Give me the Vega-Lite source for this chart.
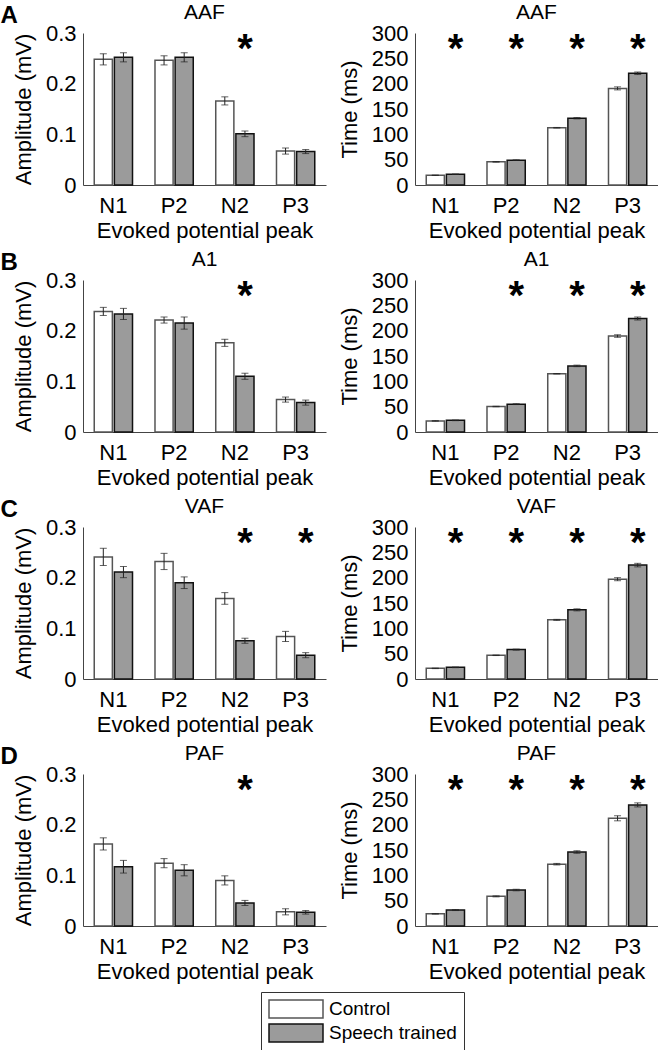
{
  "$schema": "https://vega.github.io/schema/vega-lite/v6.json",
  "background": "white",
  "padding": {"left": 0, "top": 2, "right": 0, "bottom": 0},
  "data": {"values": [
    {"region": "AAF", "measure": "amp", "peak": "N1", "group": "Control", "value": 0.248, "err": 0.011, "sig": false},
    {"region": "AAF", "measure": "amp", "peak": "N1", "group": "Speech trained", "value": 0.252, "err": 0.009, "sig": false},
    {"region": "AAF", "measure": "amp", "peak": "P2", "group": "Control", "value": 0.246, "err": 0.009, "sig": false},
    {"region": "AAF", "measure": "amp", "peak": "P2", "group": "Speech trained", "value": 0.252, "err": 0.009, "sig": false},
    {"region": "AAF", "measure": "amp", "peak": "N2", "group": "Control", "value": 0.166, "err": 0.008, "sig": false},
    {"region": "AAF", "measure": "amp", "peak": "N2", "group": "Speech trained", "value": 0.101, "err": 0.0056, "sig": true},
    {"region": "AAF", "measure": "amp", "peak": "P3", "group": "Control", "value": 0.067, "err": 0.006, "sig": false},
    {"region": "AAF", "measure": "amp", "peak": "P3", "group": "Speech trained", "value": 0.066, "err": 0.004, "sig": false},
    {"region": "AAF", "measure": "lat", "peak": "N1", "group": "Control", "value": 19.2, "err": 0.5, "sig": false},
    {"region": "AAF", "measure": "lat", "peak": "N1", "group": "Speech trained", "value": 21.2, "err": 0.5, "sig": true},
    {"region": "AAF", "measure": "lat", "peak": "P2", "group": "Control", "value": 45.7, "err": 0.5, "sig": false},
    {"region": "AAF", "measure": "lat", "peak": "P2", "group": "Speech trained", "value": 49, "err": 0.7, "sig": true},
    {"region": "AAF", "measure": "lat", "peak": "N2", "group": "Control", "value": 113, "err": 0.6, "sig": false},
    {"region": "AAF", "measure": "lat", "peak": "N2", "group": "Speech trained", "value": 131.8, "err": 1.3, "sig": true},
    {"region": "AAF", "measure": "lat", "peak": "P3", "group": "Control", "value": 190.7, "err": 3, "sig": false},
    {"region": "AAF", "measure": "lat", "peak": "P3", "group": "Speech trained", "value": 220.5, "err": 2.5, "sig": true},
    {"region": "A1", "measure": "amp", "peak": "N1", "group": "Control", "value": 0.238, "err": 0.008, "sig": false},
    {"region": "A1", "measure": "amp", "peak": "N1", "group": "Speech trained", "value": 0.233, "err": 0.011, "sig": false},
    {"region": "A1", "measure": "amp", "peak": "P2", "group": "Control", "value": 0.221, "err": 0.006, "sig": false},
    {"region": "A1", "measure": "amp", "peak": "P2", "group": "Speech trained", "value": 0.215, "err": 0.012, "sig": false},
    {"region": "A1", "measure": "amp", "peak": "N2", "group": "Control", "value": 0.176, "err": 0.007, "sig": false},
    {"region": "A1", "measure": "amp", "peak": "N2", "group": "Speech trained", "value": 0.110, "err": 0.006, "sig": true},
    {"region": "A1", "measure": "amp", "peak": "P3", "group": "Control", "value": 0.064, "err": 0.005, "sig": false},
    {"region": "A1", "measure": "amp", "peak": "P3", "group": "Speech trained", "value": 0.058, "err": 0.005, "sig": false},
    {"region": "A1", "measure": "lat", "peak": "N1", "group": "Control", "value": 21.9, "err": 0.5, "sig": false},
    {"region": "A1", "measure": "lat", "peak": "N1", "group": "Speech trained", "value": 23, "err": 0.6, "sig": false},
    {"region": "A1", "measure": "lat", "peak": "P2", "group": "Control", "value": 50.3, "err": 0.5, "sig": false},
    {"region": "A1", "measure": "lat", "peak": "P2", "group": "Speech trained", "value": 55, "err": 0.8, "sig": true},
    {"region": "A1", "measure": "lat", "peak": "N2", "group": "Control", "value": 115, "err": 0.5, "sig": false},
    {"region": "A1", "measure": "lat", "peak": "N2", "group": "Speech trained", "value": 130.5, "err": 1.5, "sig": true},
    {"region": "A1", "measure": "lat", "peak": "P3", "group": "Control", "value": 189.4, "err": 2.5, "sig": false},
    {"region": "A1", "measure": "lat", "peak": "P3", "group": "Speech trained", "value": 224, "err": 3, "sig": true},
    {"region": "VAF", "measure": "amp", "peak": "N1", "group": "Control", "value": 0.241, "err": 0.017, "sig": false},
    {"region": "VAF", "measure": "amp", "peak": "N1", "group": "Speech trained", "value": 0.211, "err": 0.011, "sig": false},
    {"region": "VAF", "measure": "amp", "peak": "P2", "group": "Control", "value": 0.232, "err": 0.016, "sig": false},
    {"region": "VAF", "measure": "amp", "peak": "P2", "group": "Speech trained", "value": 0.190, "err": 0.0115, "sig": false},
    {"region": "VAF", "measure": "amp", "peak": "N2", "group": "Control", "value": 0.159, "err": 0.0115, "sig": false},
    {"region": "VAF", "measure": "amp", "peak": "N2", "group": "Speech trained", "value": 0.0755, "err": 0.005, "sig": true},
    {"region": "VAF", "measure": "amp", "peak": "P3", "group": "Control", "value": 0.084, "err": 0.01, "sig": false},
    {"region": "VAF", "measure": "amp", "peak": "P3", "group": "Speech trained", "value": 0.047, "err": 0.005, "sig": true},
    {"region": "VAF", "measure": "lat", "peak": "N1", "group": "Control", "value": 21, "err": 0.5, "sig": false},
    {"region": "VAF", "measure": "lat", "peak": "N1", "group": "Speech trained", "value": 23, "err": 0.6, "sig": true},
    {"region": "VAF", "measure": "lat", "peak": "P2", "group": "Control", "value": 46.8, "err": 0.5, "sig": false},
    {"region": "VAF", "measure": "lat", "peak": "P2", "group": "Speech trained", "value": 58, "err": 1, "sig": true},
    {"region": "VAF", "measure": "lat", "peak": "N2", "group": "Control", "value": 116.7, "err": 1, "sig": false},
    {"region": "VAF", "measure": "lat", "peak": "N2", "group": "Speech trained", "value": 136.5, "err": 2, "sig": true},
    {"region": "VAF", "measure": "lat", "peak": "P3", "group": "Control", "value": 197, "err": 3, "sig": false},
    {"region": "VAF", "measure": "lat", "peak": "P3", "group": "Speech trained", "value": 224.8, "err": 3.5, "sig": true},
    {"region": "PAF", "measure": "amp", "peak": "N1", "group": "Control", "value": 0.162, "err": 0.012, "sig": false},
    {"region": "PAF", "measure": "amp", "peak": "N1", "group": "Speech trained", "value": 0.117, "err": 0.0125, "sig": false},
    {"region": "PAF", "measure": "amp", "peak": "P2", "group": "Control", "value": 0.124, "err": 0.009, "sig": false},
    {"region": "PAF", "measure": "amp", "peak": "P2", "group": "Speech trained", "value": 0.110, "err": 0.011, "sig": false},
    {"region": "PAF", "measure": "amp", "peak": "N2", "group": "Control", "value": 0.090, "err": 0.009, "sig": false},
    {"region": "PAF", "measure": "amp", "peak": "N2", "group": "Speech trained", "value": 0.0455, "err": 0.005, "sig": true},
    {"region": "PAF", "measure": "amp", "peak": "P3", "group": "Control", "value": 0.028, "err": 0.006, "sig": false},
    {"region": "PAF", "measure": "amp", "peak": "P3", "group": "Speech trained", "value": 0.027, "err": 0.0035, "sig": false},
    {"region": "PAF", "measure": "lat", "peak": "N1", "group": "Control", "value": 24, "err": 0.5, "sig": false},
    {"region": "PAF", "measure": "lat", "peak": "N1", "group": "Speech trained", "value": 31.5, "err": 1, "sig": true},
    {"region": "PAF", "measure": "lat", "peak": "P2", "group": "Control", "value": 58.5, "err": 1, "sig": false},
    {"region": "PAF", "measure": "lat", "peak": "P2", "group": "Speech trained", "value": 71, "err": 1.5, "sig": true},
    {"region": "PAF", "measure": "lat", "peak": "N2", "group": "Control", "value": 122, "err": 1.5, "sig": false},
    {"region": "PAF", "measure": "lat", "peak": "N2", "group": "Speech trained", "value": 146, "err": 2.5, "sig": true},
    {"region": "PAF", "measure": "lat", "peak": "P3", "group": "Control", "value": 212.6, "err": 5, "sig": false},
    {"region": "PAF", "measure": "lat", "peak": "P3", "group": "Speech trained", "value": 239, "err": 4, "sig": true}
  ]},
  "spacing": 8,
  "vconcat": [
    {"title": {"text": "A", "anchor": "start", "fontSize": 24, "fontWeight": "bold", "offset": -26, "dx": -12}, "spacing": 12, "hconcat": [
      {"title": "AAF", "width": 243, "height": 152, "transform": [{"filter": "datum.region === 'AAF' && datum.measure === 'amp'"}],
       "encoding": {"x": {"field": "peak", "type": "nominal", "sort": ["N1", "P2", "N2", "P3"], "scale": {"paddingInner": 0.37, "paddingOuter": 0.185}, "axis": {"title": "Evoked potential peak"}},
                    "xOffset": {"field": "group", "type": "nominal", "sort": ["Control", "Speech trained"], "scale": {"paddingInner": 0.1}},
                    "y": {"field": "value", "type": "quantitative", "scale": {"domain": [0, 0.3]}, "axis": {"title": "Amplitude (mV)", "values": [0, 0.1, 0.2, 0.3], "format": "~g"}}},
       "layer": [
         {"mark": {"type": "bar", "strokeWidth": 1.5}, "encoding": {"fill": {"field": "group", "type": "nominal", "scale": {"domain": ["Control", "Speech trained"], "range": ["#ffffff", "#9b9b9b"]}, "title": null}, "stroke": {"field": "group", "type": "nominal", "scale": {"domain": ["Control", "Speech trained"], "range": ["#555555", "#111111"]}, "title": null}}},
         {"mark": {"type": "errorbar", "ticks": {"size": 7}, "color": "#222222"}, "encoding": {"yError": {"field": "err"}}},
         {"transform": [{"filter": "datum.sig"}], "mark": {"type": "text", "text": "*", "fontSize": 40, "fontWeight": "bold", "baseline": "top", "dy": -3}, "encoding": {"y": {"datum": 0.3}}}
       ]},
      {"title": "AAF", "width": 243, "height": 152, "transform": [{"filter": "datum.region === 'AAF' && datum.measure === 'lat'"}],
       "encoding": {"x": {"field": "peak", "type": "nominal", "sort": ["N1", "P2", "N2", "P3"], "scale": {"paddingInner": 0.37, "paddingOuter": 0.185}, "axis": {"title": "Evoked potential peak"}},
                    "xOffset": {"field": "group", "type": "nominal", "sort": ["Control", "Speech trained"], "scale": {"paddingInner": 0.1}},
                    "y": {"field": "value", "type": "quantitative", "scale": {"domain": [0, 300]}, "axis": {"title": "Time (ms)", "values": [0, 50, 100, 150, 200, 250, 300]}}},
       "layer": [
         {"mark": {"type": "bar", "strokeWidth": 1.5}, "encoding": {"fill": {"field": "group", "type": "nominal", "scale": {"domain": ["Control", "Speech trained"], "range": ["#ffffff", "#9b9b9b"]}, "title": null}, "stroke": {"field": "group", "type": "nominal", "scale": {"domain": ["Control", "Speech trained"], "range": ["#555555", "#111111"]}, "title": null}}},
         {"mark": {"type": "errorbar", "ticks": {"size": 7}, "color": "#222222"}, "encoding": {"yError": {"field": "err"}}},
         {"transform": [{"filter": "datum.sig"}], "mark": {"type": "text", "text": "*", "fontSize": 40, "fontWeight": "bold", "baseline": "top", "dy": -3}, "encoding": {"y": {"datum": 300}}}
       ]}
    ]},
    {"title": {"text": "B", "anchor": "start", "fontSize": 24, "fontWeight": "bold", "offset": -26, "dx": -12}, "spacing": 12, "hconcat": [
      {"title": "A1", "width": 243, "height": 152, "transform": [{"filter": "datum.region === 'A1' && datum.measure === 'amp'"}],
       "encoding": {"x": {"field": "peak", "type": "nominal", "sort": ["N1", "P2", "N2", "P3"], "scale": {"paddingInner": 0.37, "paddingOuter": 0.185}, "axis": {"title": "Evoked potential peak"}},
                    "xOffset": {"field": "group", "type": "nominal", "sort": ["Control", "Speech trained"], "scale": {"paddingInner": 0.1}},
                    "y": {"field": "value", "type": "quantitative", "scale": {"domain": [0, 0.3]}, "axis": {"title": "Amplitude (mV)", "values": [0, 0.1, 0.2, 0.3], "format": "~g"}}},
       "layer": [
         {"mark": {"type": "bar", "strokeWidth": 1.5}, "encoding": {"fill": {"field": "group", "type": "nominal", "scale": {"domain": ["Control", "Speech trained"], "range": ["#ffffff", "#9b9b9b"]}, "title": null}, "stroke": {"field": "group", "type": "nominal", "scale": {"domain": ["Control", "Speech trained"], "range": ["#555555", "#111111"]}, "title": null}}},
         {"mark": {"type": "errorbar", "ticks": {"size": 7}, "color": "#222222"}, "encoding": {"yError": {"field": "err"}}},
         {"transform": [{"filter": "datum.sig"}], "mark": {"type": "text", "text": "*", "fontSize": 40, "fontWeight": "bold", "baseline": "top", "dy": -3}, "encoding": {"y": {"datum": 0.3}}}
       ]},
      {"title": "A1", "width": 243, "height": 152, "transform": [{"filter": "datum.region === 'A1' && datum.measure === 'lat'"}],
       "encoding": {"x": {"field": "peak", "type": "nominal", "sort": ["N1", "P2", "N2", "P3"], "scale": {"paddingInner": 0.37, "paddingOuter": 0.185}, "axis": {"title": "Evoked potential peak"}},
                    "xOffset": {"field": "group", "type": "nominal", "sort": ["Control", "Speech trained"], "scale": {"paddingInner": 0.1}},
                    "y": {"field": "value", "type": "quantitative", "scale": {"domain": [0, 300]}, "axis": {"title": "Time (ms)", "values": [0, 50, 100, 150, 200, 250, 300]}}},
       "layer": [
         {"mark": {"type": "bar", "strokeWidth": 1.5}, "encoding": {"fill": {"field": "group", "type": "nominal", "scale": {"domain": ["Control", "Speech trained"], "range": ["#ffffff", "#9b9b9b"]}, "title": null}, "stroke": {"field": "group", "type": "nominal", "scale": {"domain": ["Control", "Speech trained"], "range": ["#555555", "#111111"]}, "title": null}}},
         {"mark": {"type": "errorbar", "ticks": {"size": 7}, "color": "#222222"}, "encoding": {"yError": {"field": "err"}}},
         {"transform": [{"filter": "datum.sig"}], "mark": {"type": "text", "text": "*", "fontSize": 40, "fontWeight": "bold", "baseline": "top", "dy": -3}, "encoding": {"y": {"datum": 300}}}
       ]}
    ]},
    {"title": {"text": "C", "anchor": "start", "fontSize": 24, "fontWeight": "bold", "offset": -26, "dx": -12}, "spacing": 12, "hconcat": [
      {"title": "VAF", "width": 243, "height": 152, "transform": [{"filter": "datum.region === 'VAF' && datum.measure === 'amp'"}],
       "encoding": {"x": {"field": "peak", "type": "nominal", "sort": ["N1", "P2", "N2", "P3"], "scale": {"paddingInner": 0.37, "paddingOuter": 0.185}, "axis": {"title": "Evoked potential peak"}},
                    "xOffset": {"field": "group", "type": "nominal", "sort": ["Control", "Speech trained"], "scale": {"paddingInner": 0.1}},
                    "y": {"field": "value", "type": "quantitative", "scale": {"domain": [0, 0.3]}, "axis": {"title": "Amplitude (mV)", "values": [0, 0.1, 0.2, 0.3], "format": "~g"}}},
       "layer": [
         {"mark": {"type": "bar", "strokeWidth": 1.5}, "encoding": {"fill": {"field": "group", "type": "nominal", "scale": {"domain": ["Control", "Speech trained"], "range": ["#ffffff", "#9b9b9b"]}, "title": null}, "stroke": {"field": "group", "type": "nominal", "scale": {"domain": ["Control", "Speech trained"], "range": ["#555555", "#111111"]}, "title": null}}},
         {"mark": {"type": "errorbar", "ticks": {"size": 7}, "color": "#222222"}, "encoding": {"yError": {"field": "err"}}},
         {"transform": [{"filter": "datum.sig"}], "mark": {"type": "text", "text": "*", "fontSize": 40, "fontWeight": "bold", "baseline": "top", "dy": -3}, "encoding": {"y": {"datum": 0.3}}}
       ]},
      {"title": "VAF", "width": 243, "height": 152, "transform": [{"filter": "datum.region === 'VAF' && datum.measure === 'lat'"}],
       "encoding": {"x": {"field": "peak", "type": "nominal", "sort": ["N1", "P2", "N2", "P3"], "scale": {"paddingInner": 0.37, "paddingOuter": 0.185}, "axis": {"title": "Evoked potential peak"}},
                    "xOffset": {"field": "group", "type": "nominal", "sort": ["Control", "Speech trained"], "scale": {"paddingInner": 0.1}},
                    "y": {"field": "value", "type": "quantitative", "scale": {"domain": [0, 300]}, "axis": {"title": "Time (ms)", "values": [0, 50, 100, 150, 200, 250, 300]}}},
       "layer": [
         {"mark": {"type": "bar", "strokeWidth": 1.5}, "encoding": {"fill": {"field": "group", "type": "nominal", "scale": {"domain": ["Control", "Speech trained"], "range": ["#ffffff", "#9b9b9b"]}, "title": null}, "stroke": {"field": "group", "type": "nominal", "scale": {"domain": ["Control", "Speech trained"], "range": ["#555555", "#111111"]}, "title": null}}},
         {"mark": {"type": "errorbar", "ticks": {"size": 7}, "color": "#222222"}, "encoding": {"yError": {"field": "err"}}},
         {"transform": [{"filter": "datum.sig"}], "mark": {"type": "text", "text": "*", "fontSize": 40, "fontWeight": "bold", "baseline": "top", "dy": -3}, "encoding": {"y": {"datum": 300}}}
       ]}
    ]},
    {"title": {"text": "D", "anchor": "start", "fontSize": 24, "fontWeight": "bold", "offset": -26, "dx": -12}, "spacing": 12, "hconcat": [
      {"title": "PAF", "width": 243, "height": 152, "transform": [{"filter": "datum.region === 'PAF' && datum.measure === 'amp'"}],
       "encoding": {"x": {"field": "peak", "type": "nominal", "sort": ["N1", "P2", "N2", "P3"], "scale": {"paddingInner": 0.37, "paddingOuter": 0.185}, "axis": {"title": "Evoked potential peak"}},
                    "xOffset": {"field": "group", "type": "nominal", "sort": ["Control", "Speech trained"], "scale": {"paddingInner": 0.1}},
                    "y": {"field": "value", "type": "quantitative", "scale": {"domain": [0, 0.3]}, "axis": {"title": "Amplitude (mV)", "values": [0, 0.1, 0.2, 0.3], "format": "~g"}}},
       "layer": [
         {"mark": {"type": "bar", "strokeWidth": 1.5}, "encoding": {"fill": {"field": "group", "type": "nominal", "scale": {"domain": ["Control", "Speech trained"], "range": ["#ffffff", "#9b9b9b"]}, "title": null, "legend": {"orient": "none", "legendX": 178, "legendY": 959}}, "stroke": {"field": "group", "type": "nominal", "scale": {"domain": ["Control", "Speech trained"], "range": ["#555555", "#111111"]}, "title": null, "legend": {"orient": "none", "legendX": 178, "legendY": 959}}}},
         {"mark": {"type": "errorbar", "ticks": {"size": 7}, "color": "#222222"}, "encoding": {"yError": {"field": "err"}}},
         {"transform": [{"filter": "datum.sig"}], "mark": {"type": "text", "text": "*", "fontSize": 40, "fontWeight": "bold", "baseline": "top", "dy": -3}, "encoding": {"y": {"datum": 0.3}}}
       ]},
      {"title": "PAF", "width": 243, "height": 152, "transform": [{"filter": "datum.region === 'PAF' && datum.measure === 'lat'"}],
       "encoding": {"x": {"field": "peak", "type": "nominal", "sort": ["N1", "P2", "N2", "P3"], "scale": {"paddingInner": 0.37, "paddingOuter": 0.185}, "axis": {"title": "Evoked potential peak"}},
                    "xOffset": {"field": "group", "type": "nominal", "sort": ["Control", "Speech trained"], "scale": {"paddingInner": 0.1}},
                    "y": {"field": "value", "type": "quantitative", "scale": {"domain": [0, 300]}, "axis": {"title": "Time (ms)", "values": [0, 50, 100, 150, 200, 250, 300]}}},
       "layer": [
         {"mark": {"type": "bar", "strokeWidth": 1.5}, "encoding": {"fill": {"field": "group", "type": "nominal", "scale": {"domain": ["Control", "Speech trained"], "range": ["#ffffff", "#9b9b9b"]}, "title": null}, "stroke": {"field": "group", "type": "nominal", "scale": {"domain": ["Control", "Speech trained"], "range": ["#555555", "#111111"]}, "title": null}}},
         {"mark": {"type": "errorbar", "ticks": {"size": 7}, "color": "#222222"}, "encoding": {"yError": {"field": "err"}}},
         {"transform": [{"filter": "datum.sig"}], "mark": {"type": "text", "text": "*", "fontSize": 40, "fontWeight": "bold", "baseline": "top", "dy": -3}, "encoding": {"y": {"datum": 300}}}
       ]}
    ]}
  ],
  "config": {
    "font": "Liberation Sans",
    "view": {"stroke": null},
    "title": {"font": "Liberation Sans", "fontSize": 21, "fontWeight": "normal", "color": "black", "offset": -1},
    "axis": {"labelFont": "Liberation Sans", "titleFont": "Liberation Sans", "labelFontSize": 22, "titleFontSize": 22, "titleFontWeight": "normal", "labelColor": "black", "titleColor": "black", "domainColor": "#444444", "domainWidth": 1, "ticks": false, "tickSize": 0, "grid": false},
    "axisX": {"labelAngle": 0, "labelPadding": 10, "titlePadding": 4},
    "axisY": {"labelPadding": 7, "titlePadding": 10},
    "legend": {"orient": "none", "legendX": 178, "legendY": 959, "direction": "vertical", "strokeColor": "#333333", "padding": 7, "labelFont": "Liberation Sans", "labelFontSize": 19, "labelColor": "black", "labelOffset": 23, "rowPadding": 0, "symbolType": "M-3,-1H3V1H-3Z", "symbolSize": 324, "symbolOffset": 18, "symbolStrokeWidth": 1.5}
  }
}
